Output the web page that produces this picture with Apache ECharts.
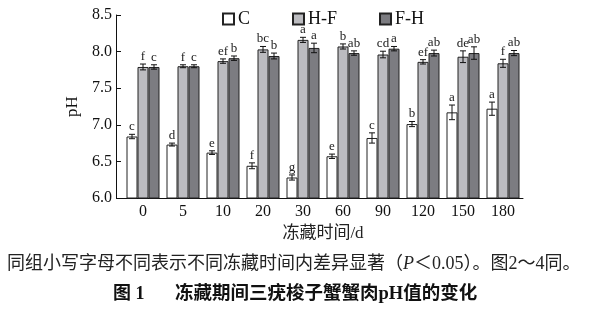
<!DOCTYPE html>
<html>
<head>
<meta charset="utf-8">
<script src="https://cdn.jsdelivr.net/npm/echarts@6/dist/echarts.min.js"></script>
<style>
  html, body { margin: 0; padding: 0; background: #fff; }
  #chart { width: 589px; height: 313px; }
</style>
</head>
<body>
<div id="chart"></div>
<script>
// 冻藏时间 (d)
const categories = ['0', '5', '10', '20', '30', '60', '90', '120', '150', '180'];
const seriesNames = ['C', 'H-F', 'F-H'];
// pH means
const cValues  = [6.84, 6.73, 6.62, 6.44, 6.28, 6.57, 6.82, 7.01, 7.17, 7.22];
const hfValues = [7.79, 7.80, 7.87, 8.03, 8.16, 8.07, 7.96, 7.86, 7.93, 7.84];
const fhValues = [7.79, 7.80, 7.91, 7.94, 8.05, 7.98, 8.04, 7.98, 7.98, 7.98];
// error bar half-lengths
const cErr  = [0.03, 0.02, 0.025, 0.04, 0.035, 0.03, 0.07, 0.035, 0.10, 0.09];
const hfErr = [0.04, 0.02, 0.03, 0.04, 0.035, 0.035, 0.045, 0.03, 0.08, 0.055];
const fhErr = [0.03, 0.02, 0.03, 0.04, 0.065, 0.03, 0.03, 0.04, 0.085, 0.035];
// significance letters
const cLetters  = ['c', 'd', 'e', 'f', 'g', 'e', 'c', 'b', 'a', 'a'];
const hfLetters = ['f', 'f', 'ef', 'bc', 'a', 'b', 'cd', 'ef', 'de', 'f'];
const fhLetters = ['c', 'c', 'b', 'b', 'a', 'ab', 'a', 'ab', 'ab', 'ab'];
const yTicks = ['6.0', '6.5', '7.0', '7.5', '8.0', '8.5'];

const barFill = ['#ffffff', '#bcbcc0', '#7c7c81'];
const catGap = 0.175;
const serif = '"Liberation Serif", "Noto Sans CJK SC", serif';

const values = [cValues, hfValues, fhValues];
const errs = [cErr, hfErr, fhErr];
const letters = [cLetters, hfLetters, fhLetters];

function errorRenderer(k) {
  return function (params, api) {
    const x = api.value(0), y = api.value(1), e = api.value(2);
    const band = api.size([1, 0])[0];
    const barW = band * (1 - catGap) / 3;
    const cx = api.coord([x, y])[0] + (k - 1) * barW;
    const top = api.coord([x, y + e])[1];
    const bot = api.coord([x, y - e])[1];
    const cap = 3;
    const st = { stroke: '#111', lineWidth: 1 };
    return {
      type: 'group',
      children: [
        { type: 'line', shape: { x1: cx, y1: top, x2: cx, y2: bot }, style: st },
        { type: 'line', shape: { x1: cx - cap, y1: top, x2: cx + cap, y2: top }, style: st },
        { type: 'line', shape: { x1: cx - cap, y1: bot, x2: cx + cap, y2: bot }, style: st },
        {
          type: 'text',
          style: {
            x: cx, y: top - 1,
            text: letters[k][params.dataIndex],
            align: 'center', verticalAlign: 'bottom',
            font: '13px ' + serif, fill: '#222'
          }
        }
      ]
    };
  };
}

const barSeries = seriesNames.map((name, k) => ({
  name: name,
  type: 'bar',
  data: values[k],
  barGap: 0,
  barCategoryGap: (catGap * 100) + '%',
  itemStyle: { color: barFill[k], borderColor: '#222', borderWidth: 1 },
  z: 2
}));

const errSeries = seriesNames.map((name, k) => ({
  name: name + '-err',
  type: 'custom',
  renderItem: errorRenderer(k),
  data: categories.map((c, i) => [i, values[k][i], errs[k][i]]),
  z: 5,
  silent: true
}));

const myChart = echarts.init(document.getElementById('chart'));
myChart.setOption({
  animation: false,
  backgroundColor: '#fff',
  grid: { left: 123, right: 66, top: 15, bottom: 115, containLabel: false },
  legend: {
    data: seriesNames,
    left: 217,
    top: 5,
    icon: 'rect',
    itemWidth: 11,
    itemHeight: 11,
    itemGap: 42,
    textStyle: { fontFamily: serif, fontSize: 18, color: '#111', padding: [0, 0, 0, -1] }
  },
  xAxis: {
    type: 'category',
    data: categories,
    name: '冻藏时间/d',
    nameLocation: 'middle',
    nameGap: 26,
    nameTextStyle: { fontFamily: serif, fontSize: 17, color: '#222' },
    axisLine: { lineStyle: { color: '#111', width: 1 } },
    axisTick: { inside: true, length: 7, lineStyle: { color: '#111' }, interval: (i) => i > 0 },
    axisLabel: { fontFamily: serif, fontSize: 16, color: '#111', margin: 6 }
  },
  yAxis: {
    type: 'value',
    min: 6.0,
    max: 8.5,
    interval: 0.5,
    offset: 7,
    name: 'pH',
    nameLocation: 'middle',
    nameRotate: 90,
    nameGap: 30,
    nameTextStyle: { fontFamily: serif, fontSize: 17, color: '#111' },
    axisLine: { show: true, lineStyle: { color: '#111', width: 1 } },
    axisTick: { show: true, inside: true, length: 5, lineStyle: { color: '#111' } },
    splitLine: { show: false },
    axisLabel: {
      fontFamily: serif, fontSize: 16, color: '#111', margin: 4,
      formatter: (v) => yTicks[Math.round((v - 6) / 0.5)]
    }
  },
  graphic: [
    // short stretch of the x axis line left of the first category
    { type: 'line', shape: { x1: 116, y1: 198.5, x2: 124, y2: 198.5 }, style: { stroke: '#111', lineWidth: 1 } },
    {
      type: 'text', left: 7, top: 255,
      style: {
        text: '{n|同组小写字母不同表示不同冻藏时间内差异显著（}{i|P}{n|＜0.05）。图2～4同。}',
        font: '18px ' + serif, fill: '#222',
        rich: {
          n: { fontFamily: serif, fontSize: 18, color: '#222' },
          i: { fontFamily: serif, fontSize: 18, fontStyle: 'italic', color: '#222' }
        }
      }
    },
    {
      type: 'text', left: 113, top: 285,
      style: { text: '图 1', font: 'bold 18px ' + serif, fill: '#111' }
    },
    {
      type: 'text', left: 175, top: 285,
      style: { text: '冻藏期间三疣梭子蟹蟹肉pH值的变化', font: 'bold 18.5px ' + serif, fill: '#111' }
    }
  ],
  series: barSeries.concat(errSeries)
});
window.onresize = function () {
  myChart.resize();
};
</script>
</body>
</html>
